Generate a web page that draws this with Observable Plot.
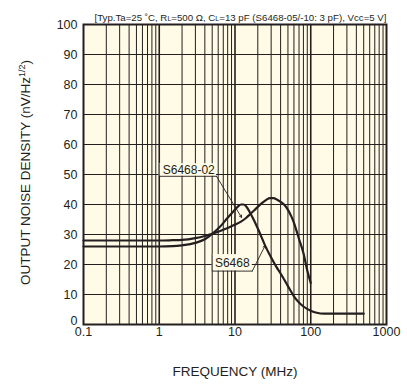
<!DOCTYPE html>
<html><head><meta charset="utf-8">
<script src="https://cdn.jsdelivr.net/npm/d3@7"></script>
<script src="https://cdn.jsdelivr.net/npm/@observablehq/plot@0.6"></script>
<style>html,body{margin:0;padding:0;background:#fff;overflow:hidden}</style>
</head><body><div id="chart"></div>
<script>
// ---- data ----
const s6468Freq  = [0.1, 0.5, 1, 1.5, 2, 3, 4, 5, 6, 7, 8, 9, 10, 11, 12, 13, 14, 16, 18, 20, 22, 25, 30, 35, 40, 50, 60, 70, 80, 100, 120, 150, 200, 300, 500];
const s6468Noise = [26, 26, 26, 26.1, 26.4, 27.2, 28.4, 30.2, 32, 33.8, 35.6, 37, 38.3, 39.4, 40, 40, 39.4, 37, 34.5, 32, 29.6, 26.3, 22.3, 19.3, 17, 12.8, 9.4, 7.3, 6, 4.6, 3.9, 3.6, 3.6, 3.6, 3.6];
const s646802Freq  = [0.1, 0.5, 1, 1.5, 2, 3, 4, 5, 6, 7, 8, 10, 12, 14, 16, 18, 20, 23, 26, 29, 32, 36, 40, 45, 50, 55, 60, 70, 80, 90, 100];
const s646802Noise = [28, 28, 28, 28.1, 28.2, 28.8, 29.5, 30.2, 30.9, 31.6, 32.2, 33.3, 34.3, 35.5, 36.9, 38.1, 39.2, 40.6, 41.6, 42.1, 42.1, 41.6, 40.9, 39.8, 38.2, 36.2, 33.9, 28.5, 23.8, 18, 13.8];
const seriesNames = ["S6468", "S6468-02"];
const xTicks = [0.1, 1, 10, 100, 1000];
const xTickLabels = ["0.1", "1", "10", "100", "1000"];
const yTicks = [0, 10, 20, 30, 40, 50, 60, 70, 80, 90, 100];
const titleText = "[Typ.Ta=25 ˚C, RL=500 Ω, CL=13 pF (S6468-05/-10: 3 pF), Vcc=5 V]";
const xLabel = "FREQUENCY (MHz)";
const yLabel = "OUTPUT NOISE DENSITY (nV/Hz1/2)";
// annotation labels (data coordinates)
const labelText   = ["S6468-02", "S6468"];
const labelX1     = [1.0, 5.0];
const labelX2     = [5.7, 16.9];
const labelYTop   = [53.6, 23.3];
const labelYBottom= [49.4, 17.8];
const labelTextX  = [2.45, 9.2];
const labelTextY  = [51.6, 20.5];
const labelTipX   = [12.2, 25];
const labelTipY   = [35.7, 26.3];

// ---- build ----
const bg = "#fffbe6";
const ink = "#231f20";
const rows = [
  ...s6468Freq.map((f, i) => ({series: seriesNames[0], f, v: s6468Noise[i]})),
  ...s646802Freq.map((f, i) => ({series: seriesNames[1], f, v: s646802Noise[i]}))
];
const minor = [];
for (const d of [0.1, 1, 10, 100]) for (let k = 2; k <= 9; k++) minor.push(d * k);
const major = [1, 10, 100];
const gridY = yTicks.filter(d => d > 0 && d < 100);
const idx = labelText.map((t, i) => i);
const leaders = labelText.flatMap((t, i) => [
  {t, x: labelX1[i], y: labelYTop[i]},
  {t, x: labelX1[i], y: labelYBottom[i]},
  {t, x: labelX2[i], y: labelYBottom[i]}
]);

const plot = Plot.plot({
  width: 407, height: 385,
  marginLeft: 83, marginRight: 21, marginTop: 24, marginBottom: 61,
  x: {type: "log", domain: [0.1, 1000], axis: null},
  y: {domain: [0, 100], axis: null},
  style: {fontFamily: "'Liberation Sans', Arial, sans-serif", background: "white", color: ink},
  marks: [
    Plot.frame({fill: bg, stroke: null}),
    Plot.ruleX(minor, {x: d => d, stroke: ink, strokeWidth: 1}),
    Plot.ruleX(major, {x: d => d, stroke: ink, strokeWidth: 1.6}),
    Plot.ruleY(gridY, {y: d => d, stroke: ink, strokeWidth: 1}),
    Plot.rect(idx, {x1: i => labelX1[i], x2: i => labelX2[i], y1: i => labelYBottom[i], y2: i => labelYTop[i], fill: bg}),
    Plot.line(leaders, {x: "x", y: "y", z: "t", stroke: ink, strokeWidth: 0.9}),
    Plot.arrow(idx, {x1: i => labelX2[i], y1: i => labelYBottom[i], x2: i => labelTipX[i], y2: i => labelTipY[i], stroke: ink, strokeWidth: 0.9, headLength: 4}),
    Plot.text(idx, {x: i => labelTextX[i], y: i => labelTextY[i], text: i => labelText[i], fontSize: 12, fill: ink}),
    Plot.line(rows, {x: "f", y: "v", z: "series", stroke: ink, strokeWidth: 2.2, curve: "monotone-x"}),
    Plot.frame({stroke: ink, strokeWidth: 2}),
    Plot.text(yTicks.filter(d => d > 0), {y: d => d, text: d => String(d), frameAnchor: "left", textAnchor: "end", dx: -6, fontSize: 12.5, fill: ink}),
    Plot.text([0], {y: d => d, text: d => String(d), frameAnchor: "left", textAnchor: "end", dx: -6, dy: -4, fontSize: 12.5, fill: ink}),
    Plot.text(xTicks, {x: d => d, text: (d, i) => xTickLabels[i], frameAnchor: "bottom", dy: 11, fontSize: 12.5, fill: ink}),
    Plot.text([xLabel], {text: d => d, frameAnchor: "bottom", dy: 51, fontSize: 13.5, fill: ink}),
    Plot.text([yLabel], {text: d => d, frameAnchor: "left", textAnchor: "middle", rotate: -90, dx: -58, dy: -2, fontSize: 13.5, fill: ink}),
    Plot.text([titleText], {text: d => d, frameAnchor: "top-right", textAnchor: "end", dy: -10, fontSize: 9, fill: ink})
  ]
});
document.getElementById("chart").appendChild(plot);

// rich text: subscripts / superscript
d3.select(plot).selectAll("text").each(function() {
  const el = d3.select(this);
  const s = this.textContent;
  if (s === titleText) {
    el.text(null);
    const parts = [["[Typ.Ta=25 ˚C, R", 0], ["L", 1], ["=500 Ω, C", 0], ["L", 1], ["=13 pF (S6468-05/-10: 3 pF), Vcc=5 V]", 0]];
    for (const [p, small] of parts) {
      const t = el.append("tspan").text(p);
      if (small) t.attr("font-size", "6.5px");
    }
    el.attr("textLength", 292).attr("lengthAdjust", "spacingAndGlyphs");
  } else if (s === yLabel) {
    el.text(null);
    el.append("tspan").text("OUTPUT NOISE DENSITY (nV/Hz");
    el.append("tspan").text("1/2").attr("font-size", "9px").attr("dy", "-5");
    el.append("tspan").text(")").attr("dy", "5");
  }
});
</script>
</body></html>
